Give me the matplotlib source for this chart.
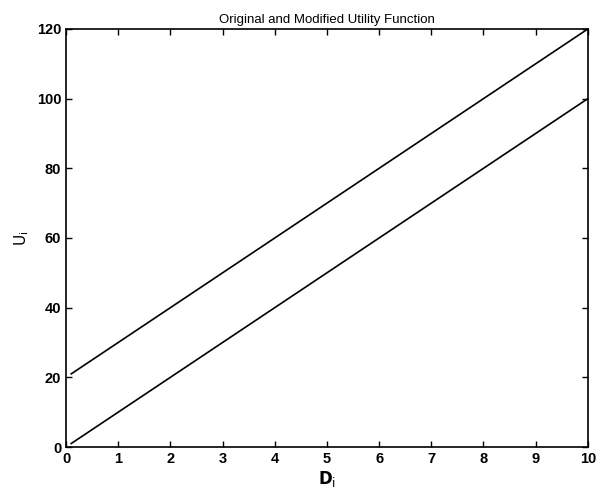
import matplotlib
matplotlib.use("Agg")
import matplotlib.pyplot as plt

D = [0.1, 1, 2, 3, 4, 5, 6, 7, 8, 9, 10]
U_original = [1, 10, 20, 30, 40, 50, 60, 70, 80, 90, 100]
U_modified = [21, 30, 40, 50, 60, 70, 80, 90, 100, 110, 120]
xticks = [0, 1, 2, 3, 4, 5, 6, 7, 8, 9, 10]
yticks = [0, 20, 40, 60, 80, 100, 120]

plt.rcParams['font.family'] = ['Liberation Sans', 'DejaVu Sans']

fig = plt.figure(figsize=(5.97, 4.88), dpi=100)
ax = fig.add_axes([0.1106, 0.084, 0.874, 0.8566])
ax.plot(D, U_modified, color='black', lw=1.2)
ax.plot(D, U_original, color='black', lw=1.2)
ax.set_xlim(0, 10)
ax.set_ylim(0, 120)
ax.set_xticks(xticks)
ax.set_yticks(yticks)
ax.tick_params(direction='in', top=True, right=True, labelsize=10.5, length=4, width=1)
for lab in ax.get_xticklabels() + ax.get_yticklabels():
    lab.set_fontweight('bold')
for s in ax.spines.values():
    s.set_linewidth(1.2)
ax.set_title('Original and Modified Utility Function', fontsize=9.5, pad=4)
ax.set_xlabel(r'$\mathbf{D}_{\mathrm{i}}$', fontsize=12, labelpad=2)
ax.set_ylabel(r'$\mathrm{U}_{\mathrm{i}}$', fontsize=11, labelpad=4)
fig.savefig('out.png', dpi=100)
